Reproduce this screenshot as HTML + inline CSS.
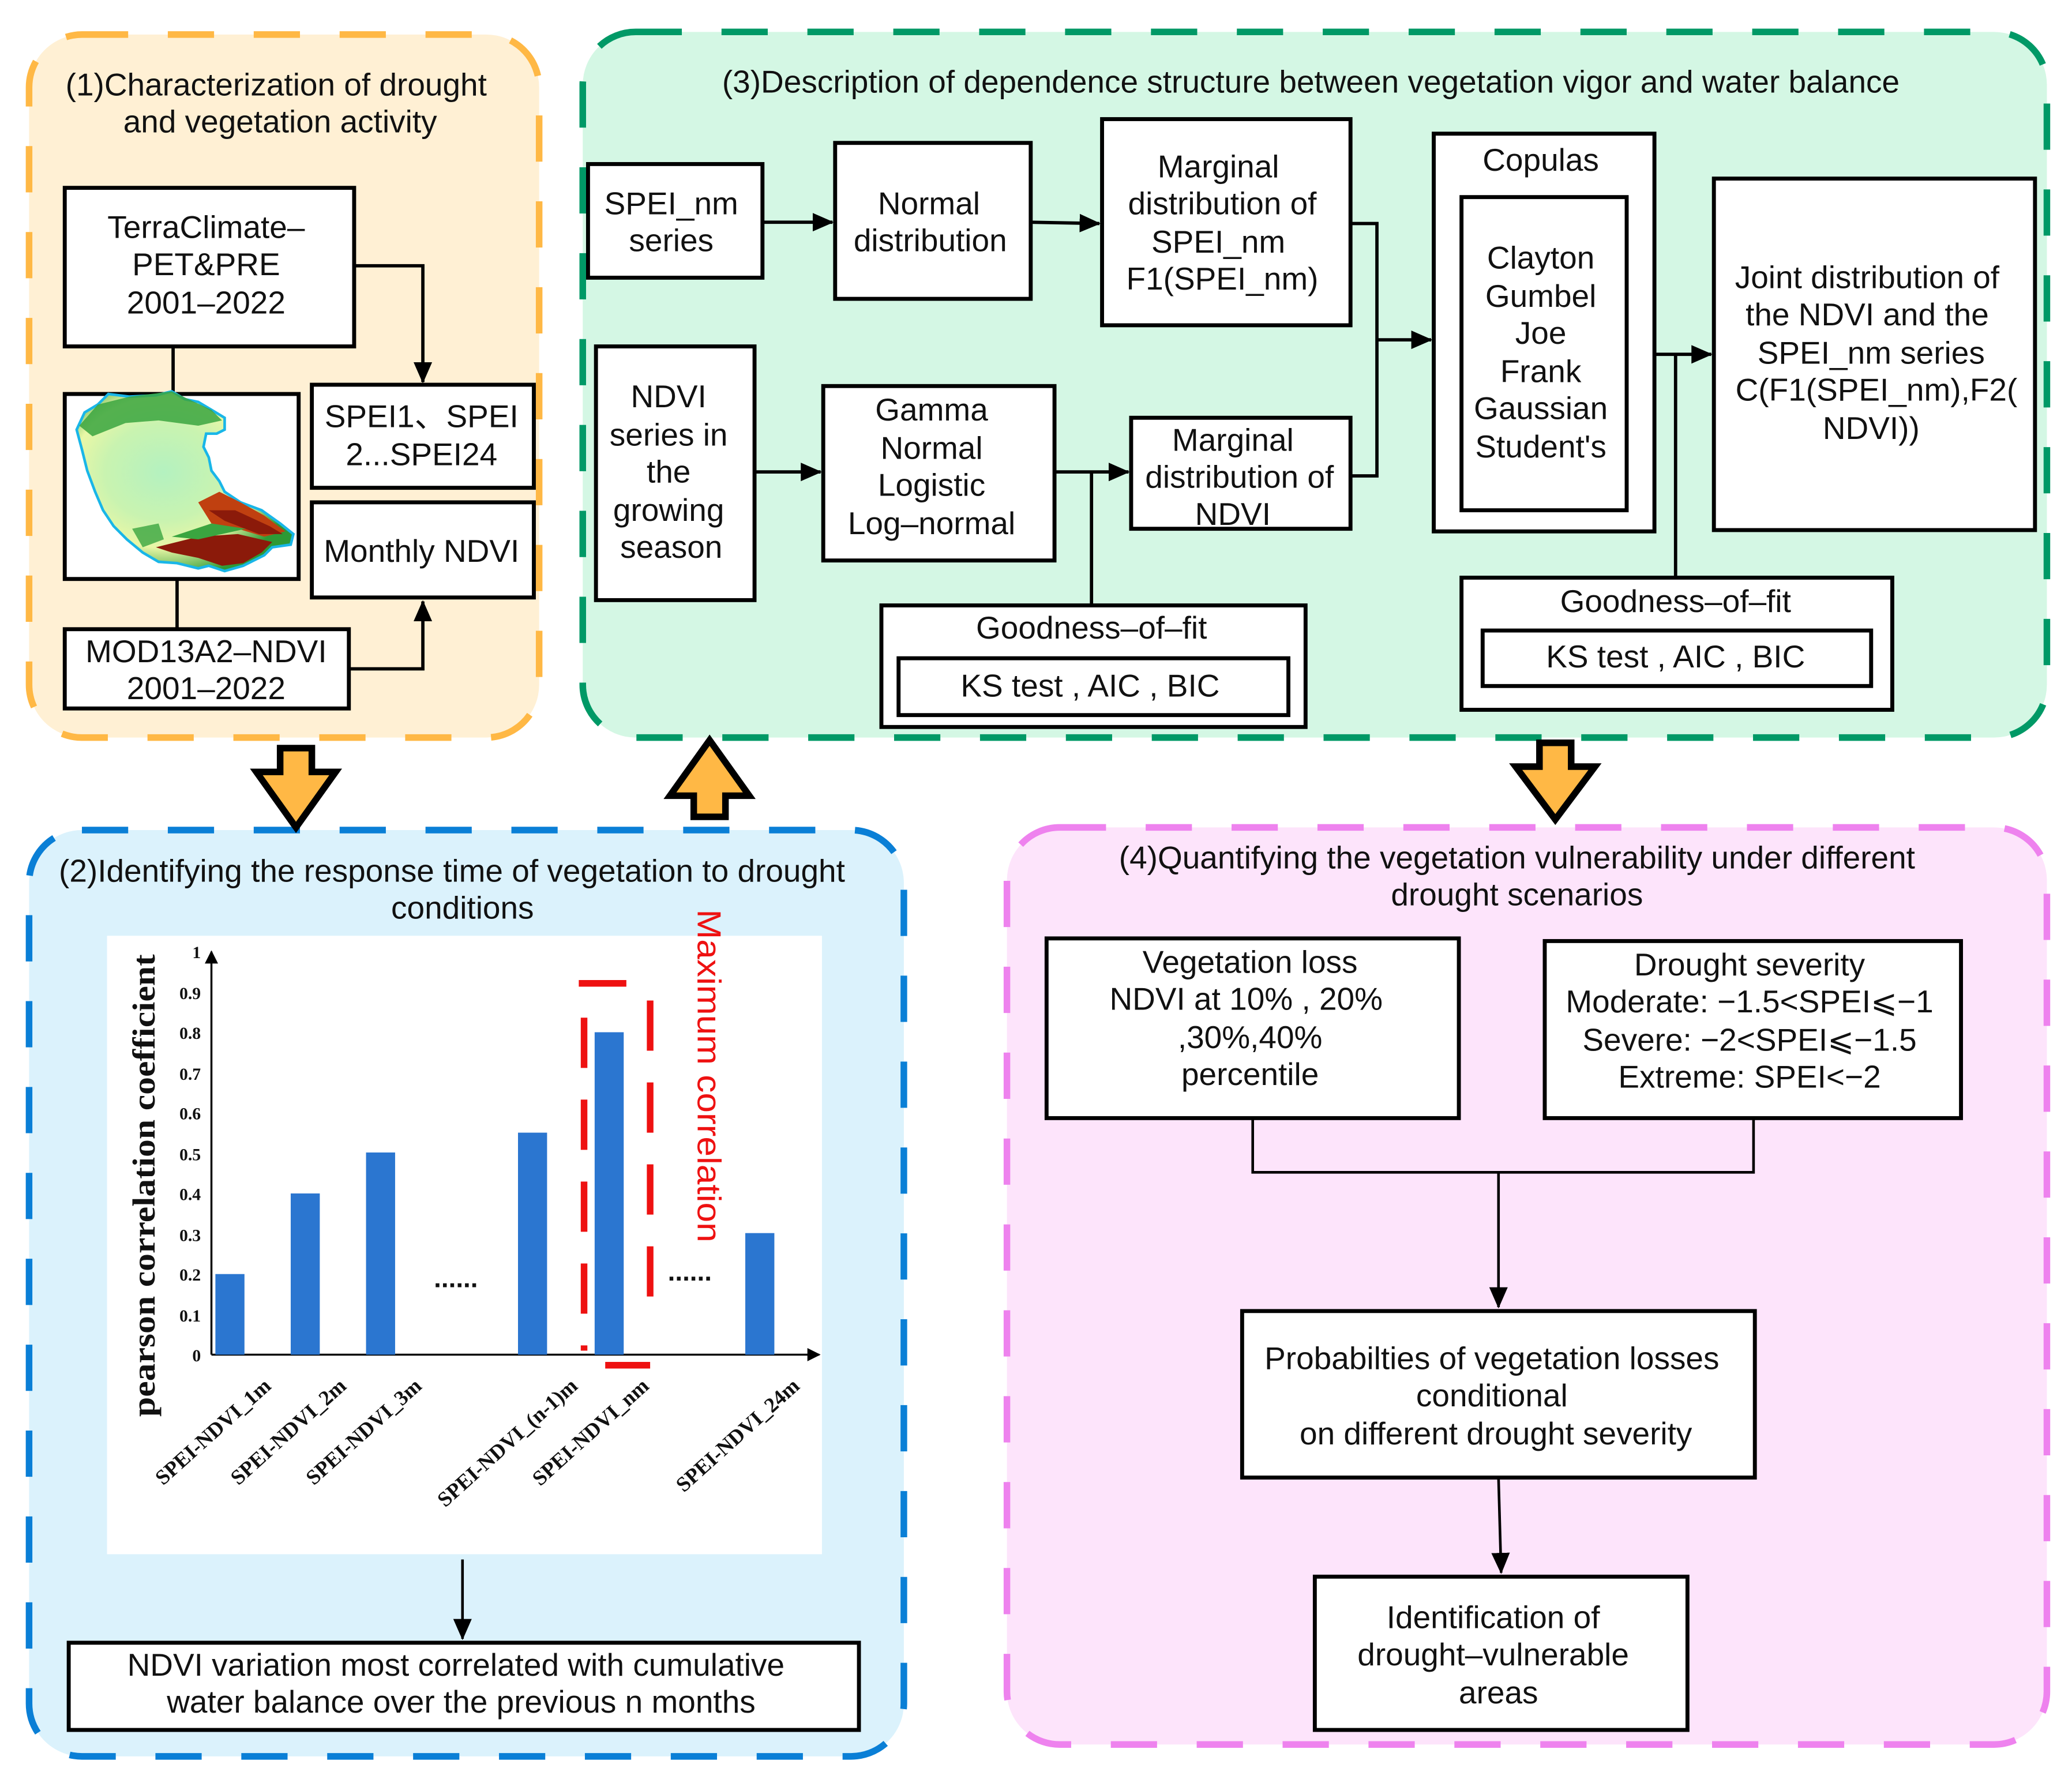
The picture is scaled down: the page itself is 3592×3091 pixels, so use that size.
<!DOCTYPE html>
<html><head><meta charset="utf-8"><style>
html,body{margin:0;padding:0;background:#fff;}
svg{display:block;}
text{font-family:"Liberation Sans",sans-serif;fill:#111;}
.t{font-size:24px;text-anchor:middle;}
text.s{font-family:"Liberation Serif",serif;font-weight:bold;}
</style></head><body>
<svg width="3592" height="3091" viewBox="0 0 1568 1349" xmlns="http://www.w3.org/2000/svg">
<defs>
<marker id="a" markerWidth="10" markerHeight="10" refX="9" refY="5" orient="auto" markerUnits="userSpaceOnUse"><path d="M0,0 L10,5 L0,10 z" fill="#000"/></marker>
<marker id="b" markerWidth="16" markerHeight="16" refX="15" refY="8" orient="auto" markerUnits="userSpaceOnUse"><path d="M0,1 L16,8 L0,15 z" fill="#000"/></marker>
<radialGradient id="mg" cx="0.4" cy="0.45" r="0.6">
<stop offset="0" stop-color="#b4f2c0"/><stop offset="0.45" stop-color="#c9f3b0"/><stop offset="0.7" stop-color="#e9f7a6"/><stop offset="1" stop-color="#2d9a35"/></radialGradient>
</defs>
<rect width="1568" height="1349" fill="#fff"/>
<!-- panels -->
<rect x="22" y="26" width="386" height="532" rx="40" fill="#fff0d4" stroke="#ffb845" stroke-width="5" stroke-dasharray="35 30"/>
<rect x="441" y="24" width="1108" height="534" rx="40" fill="#d4f7e4" stroke="#009966" stroke-width="5" stroke-dasharray="35 30"/>
<rect x="22" y="628" width="662" height="701" rx="40" fill="#dbf2fc" stroke="#0a7fd6" stroke-width="5" stroke-dasharray="35 30"/>
<rect x="762" y="626" width="787" height="694" rx="40" fill="#fde4fb" stroke="#ee82ee" stroke-width="5" stroke-dasharray="35 30"/>
<!-- big arrows -->
<path d="M212,566 L236,566 L236,584 L254,584 L224,626 L194,584 L212,584 Z" fill="#ffb845" stroke="#000" stroke-width="5"/>
<path d="M525,618 L549,618 L549,602 L567,602 L537,560 L507,602 L525,602 Z" fill="#ffb845" stroke="#000" stroke-width="5"/>
<path d="M1165,562 L1189,562 L1189,580 L1207,580 L1177,620 L1147,580 L1165,580 Z" fill="#ffb845" stroke="#000" stroke-width="5"/>

<!-- Panel 1 -->
<text class="t" x="209" y="72">(1)Characterization of drought</text>
<text class="t" x="212" y="100">and vegetation activity</text>
<g fill="#fff" stroke="#000" stroke-width="3">
<rect x="49" y="142" width="219" height="120"/>
<rect x="49" y="298" width="177" height="140"/>
<rect x="236" y="291" width="168" height="78"/>
<rect x="236" y="380" width="168" height="72"/>
<rect x="49" y="476" width="215" height="60"/>
</g>
<g stroke="#000" stroke-width="2.5" fill="none">
<path d="M268,201 L320,201 L320,289" marker-end="url(#b)"/>
<path d="M131,262 L131,298"/>
<path d="M134,438 L134,476"/>
<path d="M264,506 L320,506 L320,455" marker-end="url(#b)"/>
</g>
<text class="t" x="156" y="180">TerraClimate–</text>
<text class="t" x="156" y="208">PET&amp;PRE</text>
<text class="t" x="156" y="237">2001–2022</text>
<text class="t" x="319" y="323">SPEI1、SPEI</text>
<text class="t" x="319" y="352">2...SPEI24</text>
<text class="t" x="319" y="425">Monthly NDVI</text>
<text class="t" x="156" y="501">MOD13A2–NDVI</text>
<text class="t" x="156" y="529">2001–2022</text>
<!-- map -->
<path d="M58,325 L64,312 L74,306 L82,298 L98,300 L118,299 L130,296 L140,302 L150,304 L160,310 L170,316 L170,325 L164,328 L156,328 L154,338 L158,346 L160,356 L166,364 L170,372 L182,380 L198,386 L212,396 L222,404 L220,412 L206,414 L200,420 L184,428 L170,432 L158,428 L150,430 L142,428 L134,426 L120,425 L108,418 L96,408 L86,398 L78,386 L72,372 L66,356 L62,340 Z" fill="url(#mg)" stroke="#19b6e8" stroke-width="2"/>
<path d="M60,322 L74,306 L98,300 L130,296 L160,310 L168,318 L150,322 L120,318 L95,320 L70,330 Z" fill="#3aa540" opacity="0.85"/>
<path d="M150,380 L166,372 L182,380 L200,390 L216,402 L200,406 L180,400 L160,396 Z" fill="#c04010"/>
<path d="M158,386 L178,386 L204,398 L214,404 L196,404 L170,394 Z" fill="#8b1a0a"/>
<path d="M118,414 L150,406 L180,404 L206,410 L198,418 L184,426 L168,428 L150,422 L130,418 Z" fill="#8b1a0a"/>
<path d="M130,406 L160,396 L186,400 L150,408 Z" fill="#3aa540"/>
<path d="M100,400 L120,396 L124,408 L108,414 Z" fill="#3aa540" opacity="0.8"/>

<!-- Panel 3 -->
<text class="t" x="992" y="70">(3)Description of dependence structure between vegetation vigor and water balance</text>
<g fill="#fff" stroke="#000" stroke-width="3">
<rect x="445" y="124" width="132" height="86"/>
<rect x="632" y="108" width="148" height="118"/>
<rect x="834" y="90" width="188" height="156"/>
<rect x="451" y="262" width="120" height="192"/>
<rect x="623" y="292" width="175" height="132"/>
<rect x="856" y="316" width="166" height="84"/>
<rect x="667" y="458" width="321" height="92"/>
<rect x="680" y="498" width="295" height="43"/>
<rect x="1085" y="101" width="167" height="301"/>
<rect x="1106" y="149" width="125" height="237"/>
<rect x="1297" y="135" width="243" height="266"/>
<rect x="1106" y="437" width="326" height="100"/>
<rect x="1122" y="477" width="294" height="42"/>
</g>
<g stroke="#000" stroke-width="2.5" fill="none">
<path d="M577,168 L630,168" marker-end="url(#b)"/>
<path d="M780,168 L832,169" marker-end="url(#b)"/>
<path d="M1022,169 L1042,169 L1042,360 L1022,360"/>
<path d="M1042,257 L1083,257" marker-end="url(#b)"/>
<path d="M571,357 L621,357" marker-end="url(#b)"/>
<path d="M798,357 L854,357" marker-end="url(#b)"/>
<path d="M826,357 L826,458"/>
<path d="M1252,268 L1295,268" marker-end="url(#b)"/>
<path d="M1268,268 L1268,437"/>
</g>
<text class="t" x="508" y="162">SPEI_nm</text>
<text class="t" x="508" y="190">series</text>
<text class="t" x="703" y="162">Normal</text>
<text class="t" x="704" y="190">distribution</text>
<text class="t" x="922" y="134">Marginal</text>
<text class="t" x="925" y="162">distribution of</text>
<text class="t" x="922" y="191">SPEI_nm</text>
<text class="t" x="925" y="219">F1(SPEI_nm)</text>
<text class="t" x="506" y="308">NDVI</text>
<text class="t" x="506" y="337">series in</text>
<text class="t" x="506" y="365">the</text>
<text class="t" x="506" y="394">growing</text>
<text class="t" x="508" y="422">season</text>
<text class="t" x="705" y="318">Gamma</text>
<text class="t" x="705" y="347">Normal</text>
<text class="t" x="705" y="375">Logistic</text>
<text class="t" x="705" y="404">Log–normal</text>
<text class="t" x="933" y="341">Marginal</text>
<text class="t" x="938" y="369">distribution of</text>
<text class="t" x="933" y="397">NDVI</text>
<text class="t" x="826" y="483">Goodness–of–fit</text>
<text class="t" x="825" y="527">KS test  , AIC , BIC</text>
<text class="t" x="1166" y="129">Copulas</text>
<text class="t" x="1166" y="203">Clayton</text>
<text class="t" x="1166" y="232">Gumbel</text>
<text class="t" x="1166" y="260">Joe</text>
<text class="t" x="1166" y="289">Frank</text>
<text class="t" x="1166" y="317">Gaussian</text>
<text class="t" x="1166" y="346">Student's</text>
<text class="t" x="1413" y="218">Joint distribution of</text>
<text class="t" x="1413" y="246">the NDVI and the</text>
<text class="t" x="1416" y="275">SPEI_nm series</text>
<text class="t" x="1420" y="303">C(F1(SPEI_nm),F2(</text>
<text class="t" x="1416" y="332">NDVI))</text>
<text class="t" x="1268" y="463">Goodness–of–fit</text>
<text class="t" x="1268" y="505">KS test  , AIC , BIC</text>

<!-- Panel 2 -->
<text class="t" x="342" y="667">(2)Identifying the response time of vegetation to drought</text>
<text class="t" x="350" y="695">conditions</text>
<rect x="81" y="708" width="541" height="468" fill="#fff"/>
<g stroke="#000" stroke-width="1.5" fill="none">
<path d="M160,1025 L160,720" marker-end="url(#a)"/>
<path d="M160,1025 L620,1025" marker-end="url(#a)"/>
</g>
<g text-anchor="end" font-size="13">
<text class="s" x="152" y="1030">0</text><text class="s" x="152" y="1000">0.1</text><text class="s" x="152" y="969">0.2</text><text class="s" x="152" y="939">0.3</text><text class="s" x="152" y="908">0.4</text><text class="s" x="152" y="878">0.5</text><text class="s" x="152" y="847">0.6</text><text class="s" x="152" y="817">0.7</text><text class="s" x="152" y="786">0.8</text><text class="s" x="152" y="756">0.9</text><text class="s" x="152" y="725">1</text>
</g>
<g fill="#2b76d0">
<rect x="163" y="964" width="22" height="61"/>
<rect x="220" y="903" width="22" height="122"/>
<rect x="277" y="872" width="22" height="153"/>
<rect x="392" y="857" width="22" height="168"/>
<rect x="450" y="781" width="22" height="244"/>
<rect x="564" y="933" width="22" height="92"/>
</g>
<text x="345" y="974" font-size="20" font-weight="bold" text-anchor="middle">......</text>
<text x="522" y="969" font-size="20" font-weight="bold" text-anchor="middle">......</text>
<g stroke="#ee1111" stroke-width="5" fill="none">
<path d="M438,744 L474,744"/>
<path d="M442,770 L442,1022" stroke-dasharray="38 24"/>
<path d="M492,757 L492,1002" stroke-dasharray="38 24"/>
<path d="M458,1033 L492,1033"/>
</g>
<text transform="translate(528,688) rotate(90)" font-size="25" style="fill:#ee1111" textLength="252" lengthAdjust="spacingAndGlyphs">Maximum correlation</text>
<text class="s" transform="translate(117,897) rotate(-90)" font-size="24" text-anchor="middle" textLength="350" lengthAdjust="spacingAndGlyphs">pearson correlation coefficient</text>
<g font-size="16" text-anchor="end">
<text class="s" transform="translate(206,1050) rotate(-42)">SPEI-NDVI_1m</text>
<text class="s" transform="translate(263,1050) rotate(-42)">SPEI-NDVI_2m</text>
<text class="s" transform="translate(320,1050) rotate(-42)">SPEI-NDVI_3m</text>
<text class="s" transform="translate(438,1050) rotate(-42)">SPEI-NDVI_(n-1)m</text>
<text class="s" transform="translate(492,1050) rotate(-42)">SPEI-NDVI_nm</text>
<text class="s" transform="translate(606,1050) rotate(-42)">SPEI-NDVI_24m</text>
</g>
<path d="M350,1180 L350,1240" stroke="#000" stroke-width="2" marker-end="url(#b)"/>
<rect x="52" y="1243" width="598" height="66" fill="#fff" stroke="#000" stroke-width="3"/>
<text class="t" x="345" y="1268">NDVI variation most correlated with cumulative</text>
<text class="t" x="349" y="1296">water balance over the previous n months</text>

<!-- Panel 4 -->
<text class="t" x="1148" y="657">(4)Quantifying the vegetation vulnerability under different</text>
<text class="t" x="1148" y="685">drought scenarios</text>
<g fill="#fff" stroke="#000" stroke-width="3">
<rect x="792" y="710" width="312" height="136"/>
<rect x="1169" y="712" width="315" height="134"/>
<rect x="940" y="992" width="388" height="126"/>
<rect x="995" y="1193" width="282" height="116"/>
</g>
<g stroke="#000" stroke-width="2" fill="none">
<path d="M948,846 L948,887 L1327,887 L1327,846"/>
<path d="M1134,887 L1134,989" marker-end="url(#b)"/>
<path d="M1134,1118 L1136,1190" marker-end="url(#b)"/>
</g>
<text class="t" x="946" y="736">Vegetation loss</text>
<text class="t" x="943" y="764">NDVI at 10% , 20%</text>
<text class="t" x="946" y="793">,30%,40%</text>
<text class="t" x="946" y="821">percentile</text>
<text class="t" x="1324" y="738">Drought severity</text>
<text class="t" x="1324" y="766">Moderate: −1.5&lt;SPEI⩽−1</text>
<text class="t" x="1324" y="795">Severe: −2&lt;SPEI⩽−1.5</text>
<text class="t" x="1324" y="823">Extreme: SPEI&lt;−2</text>
<text class="t" x="1129" y="1036">Probabilties of vegetation losses</text>
<text class="t" x="1129" y="1064">conditional</text>
<text class="t" x="1132" y="1093">on different drought severity</text>
<text class="t" x="1130" y="1232">Identification of</text>
<text class="t" x="1130" y="1260">drought–vulnerable</text>
<text class="t" x="1134" y="1289">areas</text>
</svg>
</body></html>
